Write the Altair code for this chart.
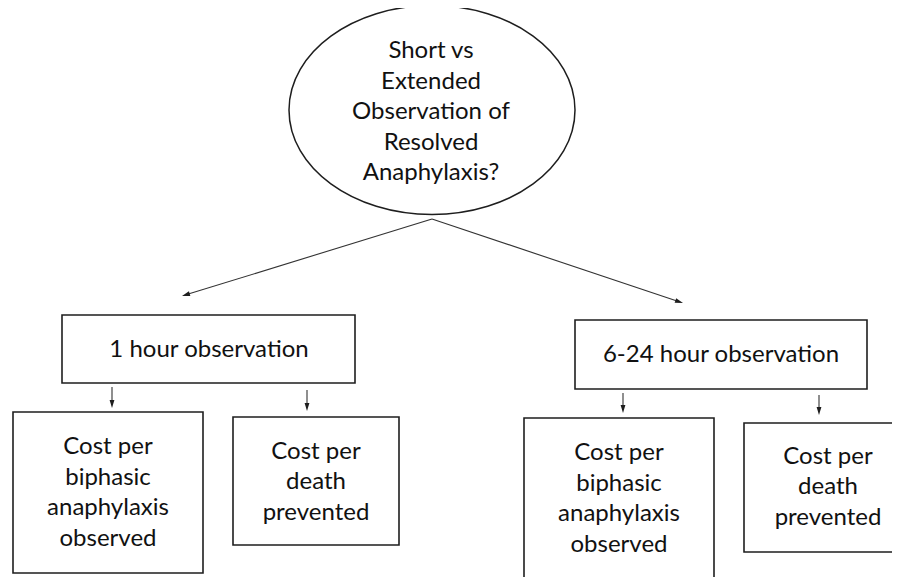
import math
import altair as alt
import pandas as pd

# ---- node texts and their centres (reference pixel coordinates) ----
labels = [
    "Short vs\nExtended\nObservation of\nResolved\nAnaphylaxis?",
    "1 hour observation",
    "6-24 hour observation",
    "Cost per\nbiphasic\nanaphylaxis\nobserved",
    "Cost per\ndeath\nprevented",
    "Cost per\nbiphasic\nanaphylaxis\nobserved",
    "Cost per\ndeath\nprevented",
]
label_x = [431, 209, 721, 108, 316, 619, 828]
label_y = [112, 350, 355, 493, 482, 499, 487]

# ---- rectangular boxes ----
box_x1 = [62, 575, 13, 233, 524, 744]
box_x2 = [355, 867, 203, 399, 714, 910]
box_y1 = [315, 320, 412, 417, 418, 423]
box_y2 = [383, 389, 573, 545, 620, 552]

# ---- ellipse (question node) ----
ell_cx = [432]
ell_cy = [110]
ell_w = 286
ell_h = 209

# ---- arrows ----
arrow_x1 = [432, 432, 112, 307, 623, 819]
arrow_y1 = [219, 219, 387, 390, 393, 395]
arrow_x2 = [182, 683, 112, 307, 623, 819]
arrow_y2 = [296, 303, 408, 411, 413, 415]

W, H = 884, 569
LH = 30.5
xs = alt.Scale(domain=[8, 8 + W])
ys = alt.Scale(domain=[8, 8 + H], reverse=True)

rows = []
for lab, cx, cy in zip(labels, label_x, label_y):
    parts = lab.split("\n")
    n = len(parts)
    for i, p in enumerate(parts):
        rows.append({"line": p, "x": cx, "y": cy + (i - (n - 1) / 2) * LH})
text_df = pd.DataFrame(rows)
box_df = pd.DataFrame({"x1": box_x1, "x2": box_x2, "y1": box_y1, "y2": box_y2})
ell_df = pd.DataFrame({"x": ell_cx, "y": ell_cy})

head_len = 8
heads = []
for x1, y1, x2, y2 in zip(arrow_x1, arrow_y1, arrow_x2, arrow_y2):
    dx, dy = x2 - x1, y2 - y1
    n = math.hypot(dx, dy)
    ux, uy = dx / n, dy / n
    ang = math.degrees(math.atan2(ux, -uy)) % 360
    heads.append({"x": x2 - ux * head_len / 2, "y": y2 - uy * head_len / 2, "angle": ang})
head_df = pd.DataFrame(heads)
line_df = pd.DataFrame({"x1": arrow_x1, "y1": arrow_y1,
                        "x2": [h["x"] for h in heads], "y2": [h["y"] for h in heads]})

ink = "#1e1e1e"

boxes = alt.Chart(box_df).mark_rect(
    fill="white", stroke=ink, strokeWidth=1.6, clip=True
).encode(
    x=alt.X("x1:Q", scale=xs, axis=None), x2="x2:Q",
    y=alt.Y("y1:Q", scale=ys, axis=None), y2="y2:Q",
)

ellipse_path = "M -1 0 A 1 0.731 0 1 1 1 0 A 1 0.731 0 1 1 -1 0 Z"
ellipse = alt.Chart(ell_df).mark_point(
    shape=ellipse_path, size=ell_w ** 2, filled=False, stroke=ink,
    strokeWidth=1.5, opacity=1, clip=True
).encode(
    x=alt.X("x:Q", scale=xs, axis=None),
    y=alt.Y("y:Q", scale=ys, axis=None),
)

lines = alt.Chart(line_df).mark_rule(color="#333333", strokeWidth=1.1, clip=True).encode(
    x=alt.X("x1:Q", scale=xs, axis=None), x2="x2:Q",
    y=alt.Y("y1:Q", scale=ys, axis=None), y2="y2:Q",
)

arrow_path = "M 0 -1 L 0.6 1 L -0.6 1 Z"
arrowheads = alt.Chart(head_df).mark_point(
    shape=arrow_path, size=head_len ** 2, filled=True, color=ink, opacity=1, clip=True
).encode(
    x=alt.X("x:Q", scale=xs, axis=None),
    y=alt.Y("y:Q", scale=ys, axis=None),
    angle=alt.Angle("angle:Q", scale=None),
)

texts = alt.Chart(text_df).mark_text(
    font="Lato", fontSize=24, align="center", baseline="middle",
    color="#111111", clip=True
).encode(
    x=alt.X("x:Q", scale=xs, axis=None),
    y=alt.Y("y:Q", scale=ys, axis=None),
    text="line:N",
)

chart = alt.layer(boxes, ellipse, lines, arrowheads, texts).properties(
    width=W, height=H, padding=0, autosize=alt.AutoSizeParams(type="none"),
    background="white",
).configure_view(stroke=None)

chart.save("out.html", embed_options={"renderer": "svg", "actions": False})
